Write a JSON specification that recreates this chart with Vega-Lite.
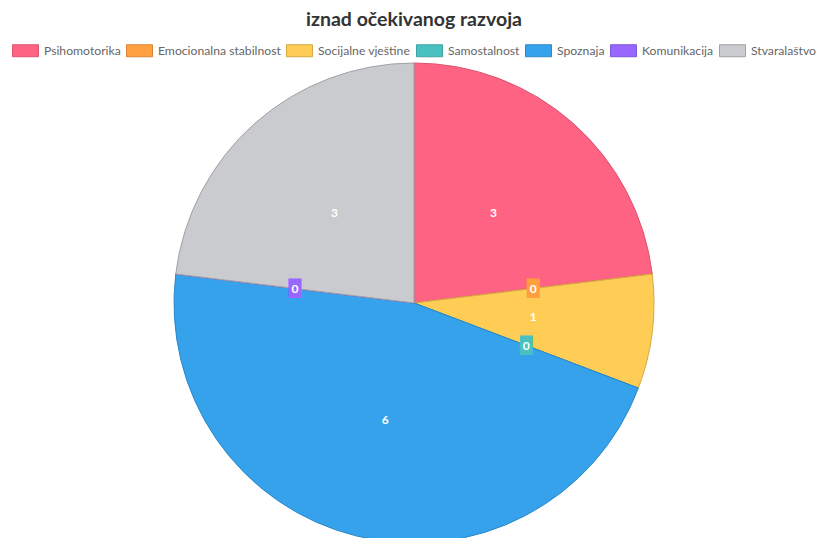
{
  "$schema": "https://vega.github.io/schema/vega-lite/v6.json",
  "width": 814,
  "height": 480,
  "padding": {"left": 7, "right": 0, "top": 9, "bottom": 0},
  "background": "white",
  "title": {"text": "iznad očekivanog razvoja", "font": "Lato", "fontSize": 19.5, "fontWeight": "bold", "color": "#333333", "anchor": "middle", "offset": 7},
  "config": {"view": {"stroke": null}, "legend": {"layout": {"top": {"anchor": "middle"}}}},
  "data": {"values": [
    {"idx": 1, "category": "Psihomotorika", "value": 3},
    {"idx": 2, "category": "Emocionalna stabilnost", "value": 0},
    {"idx": 3, "category": "Socijalne vještine", "value": 1},
    {"idx": 4, "category": "Samostalnost", "value": 0},
    {"idx": 5, "category": "Spoznaja", "value": 6},
    {"idx": 6, "category": "Komunikacija", "value": 0},
    {"idx": 7, "category": "Stvaralaštvo", "value": 3}
  ]},
  "encoding": {
    "theta": {"field": "value", "type": "quantitative", "stack": true},
    "order": {"field": "idx", "type": "quantitative"}
  },
  "layer": [
    {
      "mark": {"type": "arc", "outerRadius": 240, "strokeWidth": 1},
      "encoding": {
        "color": {"field": "category", "type": "nominal",
          "scale": {"domain": ["Psihomotorika", "Emocionalna stabilnost", "Socijalne vještine", "Samostalnost", "Spoznaja", "Komunikacija", "Stvaralaštvo"],
                    "range": ["#ff6384", "#ff9f40", "#ffcd56", "#4bc0c0", "#36a2eb", "#9966ff", "#c9cbcf"]},
          "legend": {"orient": "top", "direction": "horizontal", "title": null,
            "symbolType": "M-1,-0.4615H1V0.4615H-1Z", "symbolSize": 676, "symbolStrokeWidth": 1,
            "labelFont": "Lato", "labelFontSize": 12.2, "labelColor": "#666666", "labelOffset": 5,
            "columnPadding": 3, "offset": 4, "padding": 0, "labelLimit": 300}},
        "stroke": {"field": "category", "type": "nominal",
          "scale": {"domain": ["Psihomotorika", "Emocionalna stabilnost", "Socijalne vještine", "Samostalnost", "Spoznaja", "Komunikacija", "Stvaralaštvo"],
                    "range": ["#d9546f", "#d98536", "#d4aa46", "#3fa3a3", "#2e88c6", "#8156d6", "#9fa1a5"]},
          "legend": {"orient": "top", "direction": "horizontal", "title": null,
            "symbolType": "M-1,-0.4615H1V0.4615H-1Z", "symbolSize": 676, "symbolStrokeWidth": 1,
            "labelFont": "Lato", "labelFontSize": 12.2, "labelColor": "#666666", "labelOffset": 5,
            "columnPadding": 3, "offset": 4, "padding": 0, "labelLimit": 300}}
      }
    },
    {
      "mark": {"type": "text", "radius": 120, "text": "█", "font": "DejaVu Sans", "fontSize": 16.5, "align": "center", "baseline": "middle"},
      "encoding": {
        "color": {"field": "category", "type": "nominal"}
      }
    },
    {
      "mark": {"type": "text", "radius": 120, "font": "Lato", "fontSize": 12, "fontWeight": "bold", "color": "white", "align": "center", "baseline": "middle"},
      "encoding": {
        "text": {"field": "value", "type": "quantitative"}
      }
    }
  ]
}
